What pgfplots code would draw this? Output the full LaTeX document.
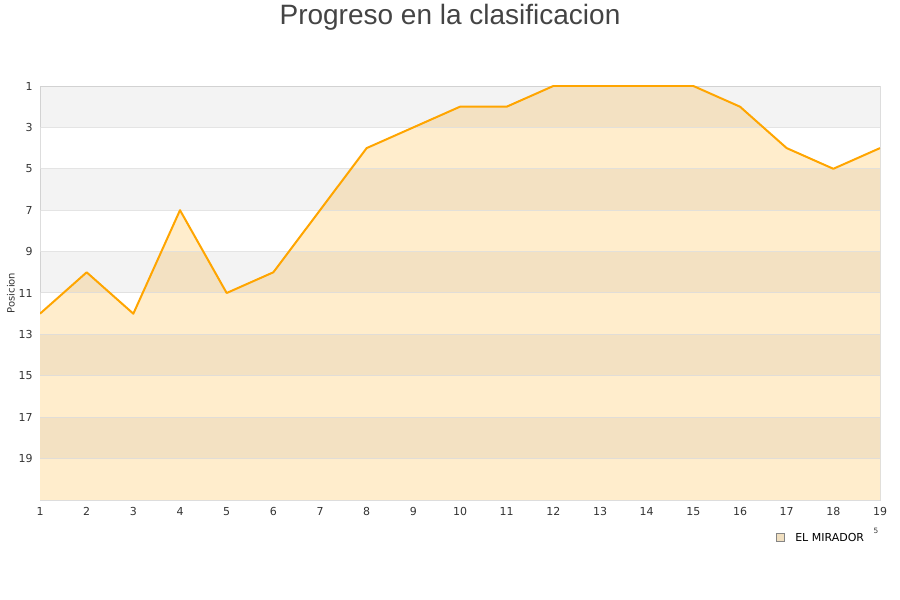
\documentclass[border=0pt]{standalone}
\usepackage{fontspec}
\setmainfont{DejaVu Sans}
\newfontfamily\titlefont{Liberation Sans}
\usepackage{pgfplots}
\pgfplotsset{compat=1.18}
\usepgfplotslibrary{fillbetween}

\definecolor{lineor}{RGB}{255,165,0}
\definecolor{areafill}{RGB}{255,237,204}
\definecolor{gridc}{RGB}{221,221,221}
\definecolor{tickc}{RGB}{51,51,51}
\definecolor{titlec}{RGB}{68,68,68}

\begin{document}
\begin{tikzpicture}
\path (0pt,0pt) rectangle (675pt,450pt);
\node[font=\titlefont\fontsize{21}{24}\selectfont, text=titlec, anchor=base, inner sep=0pt] at (337.5pt,431.5pt) {Progreso en la clasificacion};
\node[font=\fontsize{7.5}{9}\selectfont, text=tickc, rotate=90] at (8.25pt,230.25pt) {Posicion};
\begin{axis}[
  at={(30pt,75pt)}, anchor=south west,
  scale only axis, width=630pt, height=310.5pt,
  xmin=1, xmax=19, ymin=1, ymax=21, y dir=reverse,
  xtick={1,...,19}, ytick={1,3,...,19},
  axis line style={gridc}, major tick length=0pt,
  tick label style={font=\fontsize{8.25}{10}\selectfont, text=tickc},
  /pgf/number format/assume math mode=true,
  xticklabel style={yshift=-2pt},
  yticklabel style={xshift=-2pt},
]
\addplot[name path=base, draw=none, forget plot] coordinates {(1,21) (19,21)};
\addplot[name path=pos, draw=none, forget plot] coordinates {
(1,12) (2,10) (3,12) (4,7) (5,11) (6,10) (7,7) (8,4) (9,3) (10,2)
(11,2) (12,1) (13,1) (14,1) (15,1) (16,2) (17,4) (18,5) (19,4)};
\addplot[fill=areafill, draw=none, forget plot] fill between[of=pos and base];
% alternating bands and grid lines
\pgfplotsinvokeforeach{1,5,9,13,17}{
  \fill[black, opacity=0.047] (axis cs:1,#1) rectangle (axis cs:19,#1+2);
}
\pgfplotsinvokeforeach{3,5,...,19}{
  \draw[gridc, opacity=0.8, line width=0.75pt] (axis cs:1,#1) -- (axis cs:19,#1);
}
\addplot[lineor, line width=1.5pt, line join=round] coordinates {
(1,12) (2,10) (3,12) (4,7) (5,11) (6,10) (7,7) (8,4) (9,3) (10,2)
(11,2) (12,1) (13,1) (14,1) (15,1) (16,2) (17,4) (18,5) (19,4)};
\end{axis}
\draw[gridc!60!black, fill=areafill!80!black!30!areafill, line width=0.6pt] (582pt,44.25pt) rectangle (588pt,50.25pt);
\node[anchor=west, font=\fontsize{8.25}{10}\selectfont, inner sep=0pt] at (596.25pt,47.25pt) {EL MIRADOR};
\node[font=\fontsize{5.5}{7}\selectfont, text=tickc, inner sep=0pt] at (657pt,51.75pt) {5};
\end{tikzpicture}
\end{document}
